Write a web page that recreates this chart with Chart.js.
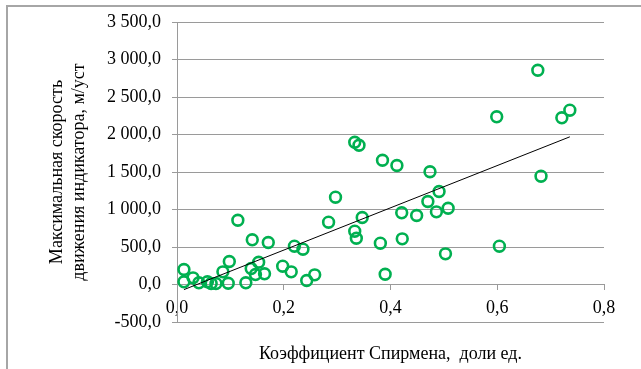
<!DOCTYPE html>
<html lang="ru">
<head>
    <meta charset="UTF-8">
    <title>Скорость движения индикатора</title>
    <script src="https://cdn.jsdelivr.net/npm/chart.js"></script>
</head>
<body style="margin: 0; background-color: white;">
    <div style="position: absolute; left: 6px; top: 5px; width: 640px; height: 370px; border-top: 2px solid #a6a6a6; border-left: 2px solid #a6a6a6;"></div>
    <canvas id="chart" width="641" height="369" style="position: absolute; left: 0; top: 0;"></canvas>

    <script>
        // Коэффициент Спирмена (ось X) и скорость, м/уст (ось Y)
        const spearman = [0.333, 0.341, 0.385, 0.412, 0.297, 0.421, 0.347, 0.284, 0.114, 0.333,
                          0.336, 0.141, 0.171, 0.381, 0.422, 0.220, 0.236, 0.098, 0.153, 0.198,
                          0.013, 0.086, 0.139, 0.214, 0.147, 0.164, 0.258, 0.390, 0.243, 0.030,
                          0.013, 0.041, 0.057, 0.064, 0.073, 0.096, 0.129, 0.474, 0.682, 0.491,
                          0.470, 0.449, 0.486, 0.508, 0.604, 0.503, 0.676, 0.599, 0.721, 0.736];
        const speed = [1897, 1857, 1657, 1587, 1164, 956, 893, 831, 857, 711,
                       617, 596, 560, 551, 609, 511, 471, 307, 297, 244,
                       200, 169, 213, 169, 133, 143, 129, 137, 53, 89,
                       36, 23, 36, 13, 13, 17, 23, 1503, 1444, 1240,
                       1107, 920, 969, 1017, 511, 409, 2857, 2236, 2223, 2324];

        const xTicks = [0, 0.2, 0.4, 0.6, 0.8];
        const yTicks = [-500, 0, 500, 1000, 1500, 2000, 2500, 3000, 3500];

        const points = spearman.map((x, i) => ({ x: x, y: speed[i] }));

        // линейный тренд по МНК
        const n = points.length;
        let sumX = 0, sumY = 0, sumXY = 0, sumXX = 0;
        points.forEach(p => {
            sumX += p.x; sumY += p.y; sumXY += p.x * p.y; sumXX += p.x * p.x;
        });
        const slope = (n * sumXY - sumX * sumY) / (n * sumXX - sumX * sumX);
        const intercept = (sumY - slope * sumX) / n;
        const minX = Math.min(...spearman), maxX = Math.max(...spearman);
        const trend = [
            { x: minX, y: slope * minX + intercept },
            { x: maxX, y: slope * maxX + intercept }
        ];

        function fmt(v, d) {
            const s = Math.abs(v).toFixed(d).split('.');
            const int = s[0].replace(/\B(?=(\d{3})+(?!\d))/g, ' ');
            return (v < 0 ? '-' : '') + int + ',' + s[1];
        }

        const serif = "'Liberation Serif', 'Times New Roman', serif";
        const gridColor = '#9a9a9a';

        new Chart(document.getElementById('chart'), {
            type: 'scatter',
            data: {
                datasets: [{
                    type: 'line',
                    data: trend,
                    borderColor: '#000000',
                    borderWidth: 1,
                    pointRadius: 0,
                    fill: false,
                    order: 0
                }, {
                    data: points,
                    borderColor: '#00b050',
                    backgroundColor: 'rgba(0,0,0,0)',
                    borderWidth: 2.6,
                    pointRadius: 5.4,
                    pointHoverRadius: 5.4,
                    order: 1
                }]
            },
            options: {
                responsive: false,
                animation: false,
                devicePixelRatio: 1,
                layout: { padding: { left: 8, top: 22, right: 37, bottom: 0 } },
                plugins: { legend: { display: false }, tooltip: { enabled: false } },
                scales: {
                    x: {
                        type: 'linear',
                        position: { y: 0 },
                        min: 0, max: 0.8,
                        afterBuildTicks: s => { s.ticks = xTicks.map(v => ({ value: v })); },
                        afterFit: s => { s.height = 0; },
                        ticks: {
                            padding: 8,
                            color: '#000000',
                            font: { family: serif, size: 18 },
                            callback: v => fmt(v, 1)
                        },
                        grid: { drawOnChartArea: false, drawTicks: true, tickLength: 5, color: gridColor },
                        border: { display: true, color: gridColor, width: 1 }
                    },
                    x2: {
                        type: 'linear',
                        position: 'bottom',
                        min: 0, max: 0.8,
                        afterFit: s => { s.height = 47; },
                        ticks: { display: false },
                        grid: { display: false },
                        border: { display: false },
                        title: {
                            display: true,
                            text: 'Коэффициент Спирмена,  доли ед.',
                            color: '#000000',
                            font: { family: serif, size: 18 },
                            padding: { top: 0, bottom: 4 }
                        }
                    },
                    y: {
                        type: 'linear',
                        position: 'left',
                        min: -500, max: 3500,
                        afterBuildTicks: s => { s.ticks = yTicks.map(v => ({ value: v })); },
                        afterFit: s => { s.width = 169; },
                        ticks: {
                            padding: 11,
                            color: '#000000',
                            font: { family: serif, size: 18 },
                            callback: v => fmt(v, 1)
                        },
                        grid: { color: gridColor, lineWidth: 1, drawTicks: true, tickLength: 5 },
                        border: { display: true, color: gridColor, width: 1 },
                        title: {
                            display: true,
                            text: ['Максимальная скорость', 'движения индикатора, м/уст'],
                            color: '#000000',
                            font: { family: serif, size: 18, lineHeight: 1.22 },
                            padding: { top: 38, bottom: 0 }
                        }
                    }
                }
            }
        });
    </script>
</body>
</html>
